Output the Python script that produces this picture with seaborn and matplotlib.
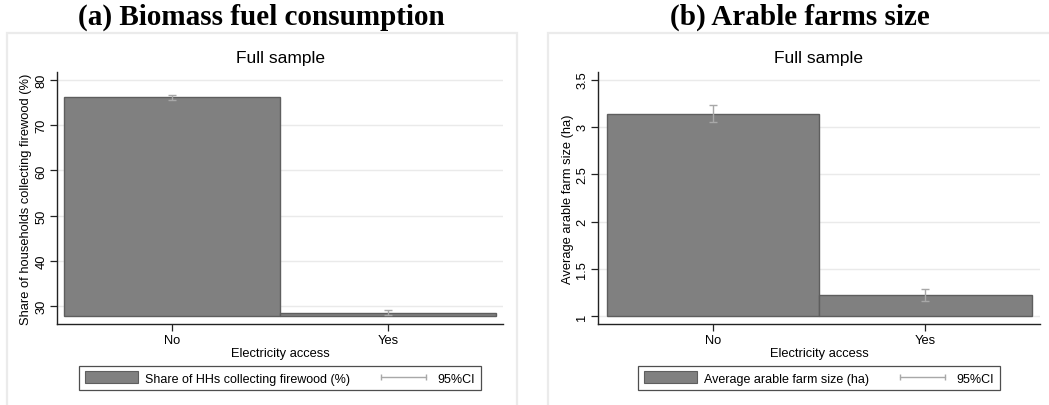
import numpy as np
import pandas as pd
import matplotlib
matplotlib.use("Agg")
import matplotlib.pyplot as plt
from matplotlib.patches import Rectangle, Patch
from matplotlib.lines import Line2D
import seaborn as sns

# data
access = ["No", "Yes"]
firewood_share = [76.2, 28.4]
firewood_lo = [75.5, 27.9]
firewood_hi = [76.8, 29.0]
firewood_base = 27.8

farm_size = [3.14, 1.22]
farm_lo = [3.05, 1.16]
farm_hi = [3.23, 1.285]
farm_base = 1.0

sns.set_theme(style="white")
plt.rcParams['font.family'] = ['Liberation Sans', 'DejaVu Sans']
plt.rcParams.update({'text.color': 'black', 'axes.labelcolor': 'black',
                     'xtick.color': 'black', 'ytick.color': 'black'})

BAR = "#808080"
BAR_EDGE = "#5e5e5e"
CI = "#a8a8a8"
GRID = "#eaeaea"
FS = 9.3

fig = plt.figure(figsize=(10.49, 4.06), dpi=100)

# outer stata-like panels
for x0, w in [(7/1049, 510/1049), (548/1049, 520/1049)]:
    fig.patches.append(Rectangle((x0, -0.01), w, 0.916 + 0.01, transform=fig.transFigure,
                                 facecolor="white", edgecolor="#ebebeb", lw=1.6, zorder=-5))


def panel(ax, vals, lo, hi, base, ylim, yticks, ytl, ylabel, legend_label, xlim):
    ax.patch.set_alpha(0)
    df = pd.DataFrame({"access": access, "val": vals})
    sns.barplot(data=df, x="access", y="val", ax=ax, width=1.0, color=BAR,
                saturation=1, edgecolor=BAR_EDGE, linewidth=1.0, errorbar=None, zorder=2)
    # stata twoway bars start from the base value, not zero
    for p, v in zip(ax.patches, vals):
        p.set_y(base)
        p.set_height(v - base)
    mid = np.array(vals)
    ax.errorbar(np.arange(len(vals)), mid,
                yerr=[mid - np.array(lo), np.array(hi) - mid],
                fmt="none", ecolor=CI, elinewidth=1.0, capsize=3, capthick=1.0, zorder=3)
    ax.set_ylim(*ylim)
    ax.set_xlim(*xlim)
    ax.set_yticks(yticks)
    ax.set_yticklabels(ytl, rotation=90, va="center", fontsize=FS)
    ax.set_xticks([0, 1])
    ax.set_xticklabels(access, fontsize=FS)
    ax.yaxis.grid(True, color=GRID, lw=1.0, zorder=0)
    ax.set_axisbelow(True)
    for s in ["top", "right"]:
        ax.spines[s].set_visible(False)
    for s in ["left", "bottom"]:
        ax.spines[s].set_color("#222222")
        ax.spines[s].set_linewidth(1.0)
    ax.tick_params(axis="both", direction="out", length=5, width=0.9, color="#222222",
                   left=True, bottom=True, pad=2)
    ax.set_xlabel("Electricity access", fontsize=FS, labelpad=1)
    ax.set_ylabel(ylabel, fontsize=FS, labelpad=2)
    ax.set_title("Full sample", fontsize=12.5, pad=7)
    handles = [Patch(facecolor=BAR, edgecolor=BAR_EDGE, lw=0.8),
               Line2D([0, 1], [0, 0], color=CI, lw=1.0, marker="|", markersize=5, markeredgecolor=CI)]
    pos = ax.get_position()
    leg = fig.legend(handles, [legend_label, "95%CI"], ncol=2, numpoints=2,
                     loc="center", bbox_to_anchor=((pos.x0 + pos.x1) / 2, 1 - 379 / 406),
                     fontsize=9, frameon=True, fancybox=False, edgecolor="#222222",
                     handlelength=4.2, handleheight=1.1, handletextpad=0.6,
                     columnspacing=2.2, borderpad=0.45, borderaxespad=0)
    leg.get_frame().set_linewidth(0.9)


ax1 = fig.add_axes([57/1049, 1 - 325/406, 446/1049, 252/406])
panel(ax1, firewood_share, firewood_lo, firewood_hi, firewood_base,
      (26.0, 81.8), [30, 40, 50, 60, 70, 80], ["30", "40", "50", "60", "70", "80"],
      "Share of households collecting firewood (%)",
      "Share of HHs collecting firewood (%)", (-0.532, 1.532))

ax2 = fig.add_axes([598/1049, 1 - 325/406, 442/1049, 252/406])
panel(ax2, farm_size, farm_lo, farm_hi, farm_base,
      (0.918, 3.58), [1, 1.5, 2, 2.5, 3, 3.5], ["1", "1.5", "2", "2.5", "3", "3.5"],
      "Average arable farm size (ha)",
      "Average arable farm size (ha)", (-0.54, 1.54))

fig.text(261/1049, 1 - 17/406, "(a) Biomass fuel consumption", ha="center", va="center",
         fontsize=21, fontweight="bold", family=["Liberation Serif", "DejaVu Serif"])
fig.text(800/1049, 1 - 17/406, "(b) Arable farms size", ha="center", va="center",
         fontsize=21, fontweight="bold", family=["Liberation Serif", "DejaVu Serif"])

fig.savefig("out.png", dpi=100)
